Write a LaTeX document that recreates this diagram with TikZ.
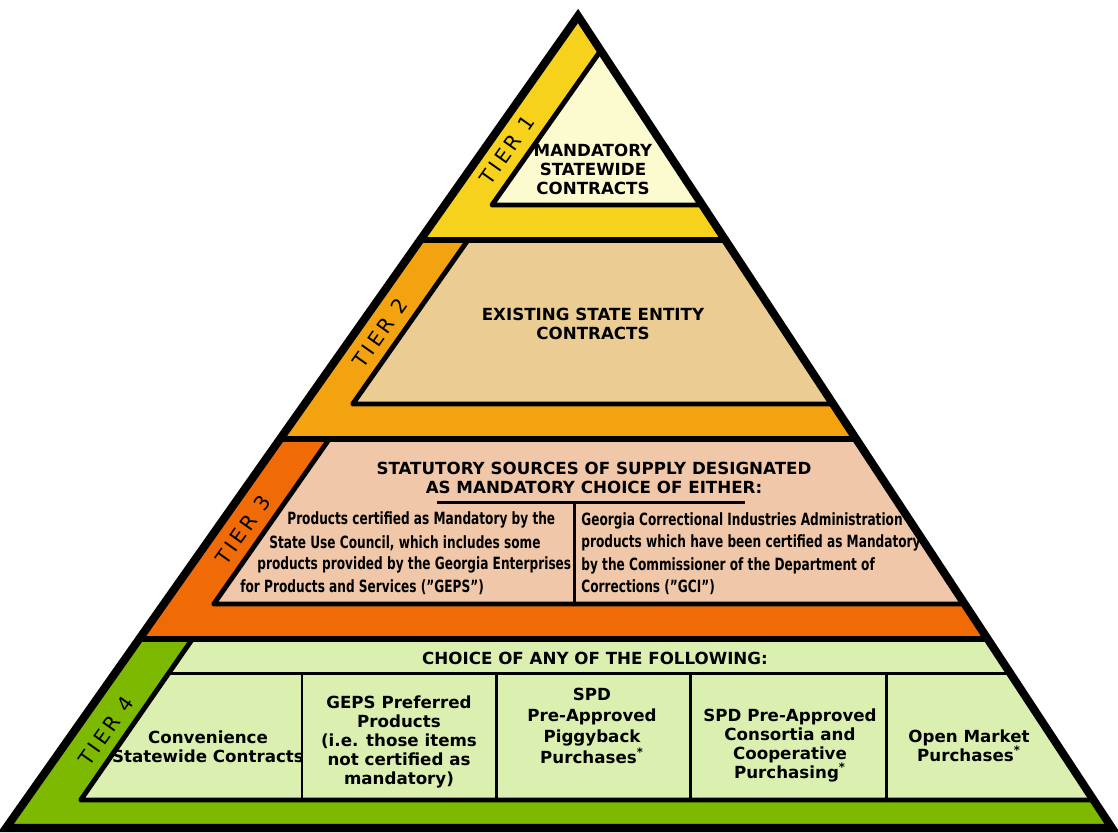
\documentclass[tikz,border=0pt]{standalone}
\usepackage{fontspec}
\setmainfont{DejaVu Sans}
\newfontfamily\tierfont[LetterSpace=18]{DejaVu Sans}
\newfontfamily\narrowfont[FakeStretch=0.72]{DejaVu Sans}
\usepackage{tikz}

\definecolor{tierone}{HTML}{F6D21C}
\definecolor{tieronein}{HTML}{FCFBD0}
\definecolor{tiertwo}{HTML}{F3A310}
\definecolor{tiertwoin}{HTML}{EBCD93}
\definecolor{tierthree}{HTML}{F06A06}
\definecolor{tierthreein}{HTML}{F0C8A9}
\definecolor{tierfour}{HTML}{7DB901}
\definecolor{tierfourin}{HTML}{DBF0B0}

\begin{document}
\begin{tikzpicture}[x=0.02cm, y=-0.02cm,
    sep/.style={line width=3.4pt},
    panel/.style={line width=2.8pt, line join=round},
    grid/.style={line width=1.7pt},
    head/.style={font=\fontsize{9.5}{10.8}\selectfont\bfseries, align=center, inner sep=0pt},
    body/.style={font=\narrowfont\bfseries\fontsize{9.6}{12.8}\selectfont, inner sep=0pt},
    tier/.style={font=\tierfont\fontsize{11.5}{11.5}\selectfont, rotate=54.8, inner sep=0pt}]
    \useasboundingbox (0,0) rectangle (1118,832);

    % Corners of the pyramid
    \coordinate (apex) at (578,16);
    \coordinate (bl) at (6,828);
    \coordinate (br) at (1112,828);

    \begin{scope}
      \clip (apex) -- (bl) -- (br) -- cycle;
      % Draw tier bands
      \foreach \top/\bot/\col in {0/240/tierone, 240/439/tiertwo, 439/639/tierthree, 639/832/tierfour} {
        \fill[\col] (0,\top) rectangle (1118,\bot);
      }
      % Draw inner panels
      \foreach \tx/\ty/\bx/\by/\col in {625/16/492/205/tieronein, 468/240/352.7/404/tiertwoin, 329.3/439/213.8/604/tierthreein, 192.4/639/80.7/800/tierfourin} {
        \filldraw[panel, fill=\col] (1118,\ty) -- (\tx,\ty) -- (\bx,\by) -- (1118,\by) -- cycle;
      }
      % Draw tier separators
      \foreach \y in {240,439,639} {
        \draw[sep] (0,\y) -- (1118,\y);
      }
      % Draw table lines
      \draw[grid] (437,502) -- (745,502);
      \draw[grid] (574,502) -- (574,604);
      \draw[grid] (169.7,673) -- (1118,673);
      \foreach \x in {302,496,690,886} {
        \draw[grid] (\x,673) -- (\x,800);
      }
    \end{scope}

    % Draw outer pyramid
    \draw[line width=4.6pt, line join=miter] (apex) -- (bl) -- (br) -- cycle;

    % Tier labels
    \foreach \i/\x/\y in {1/507/150, 2/380/333, 3/243/530, 4/106/731} {
      \node[tier] (tier\i) at (\x,\y) {TIER \i};
    }

    % Tier 1 and 2
    \node[head] (mandatory) at (593,169) {MANDATORY\\STATEWIDE\\CONTRACTS};
    \node[head] (existing) at (593,324) {EXISTING STATE ENTITY\\CONTRACTS};

    % Tier 3
    \node[head] (statutory) at (594,477.5) {STATUTORY SOURCES OF SUPPLY DESIGNATED\\AS MANDATORY CHOICE OF EITHER:};
    \foreach \i/\x/\y/\t in {1/287/520/{Products certified as Mandatory by the}, 2/269/543/{State Use Council, which includes some}, 3/257/565/{products provided by the Georgia Enterprises}, 4/240/587/{for Products and Services (”GEPS”)}} {
      \node[body, anchor=west] (geps\i) at (\x,\y) {\t};
    }
    \node[body, anchor=west, align=left] (gci) at (581,553.5) {Georgia Correctional Industries Administration\\products which have been certified as Mandatory\\by the Commissioner of the Department of\\Corrections (”GCI”)};

    % Tier 4
    \node[head] (choice) at (595,658) {CHOICE OF ANY OF THE FOLLOWING:};
    \node[head] (convenience) at (208,746.5) {Convenience\\Statewide Contracts};
    \node[head] (preferred) at (399,742) {GEPS Preferred\\Products\\(i.e. those items\\not certified as\\mandatory)};
    \node[head, font=\fontsize{9.5}{12}\selectfont\bfseries] (piggyback) at (592,726) {SPD\\Pre-Approved\\Piggyback\\Purchases\textsuperscript{*}};
    \node[head] (consortia) at (790,745) {SPD Pre-Approved\\Consortia and\\Cooperative\\Purchasing\textsuperscript{*}};
    \node[head] (openmarket) at (969,745.5) {Open Market\\Purchases\textsuperscript{*}};

\end{tikzpicture}
\end{document}
